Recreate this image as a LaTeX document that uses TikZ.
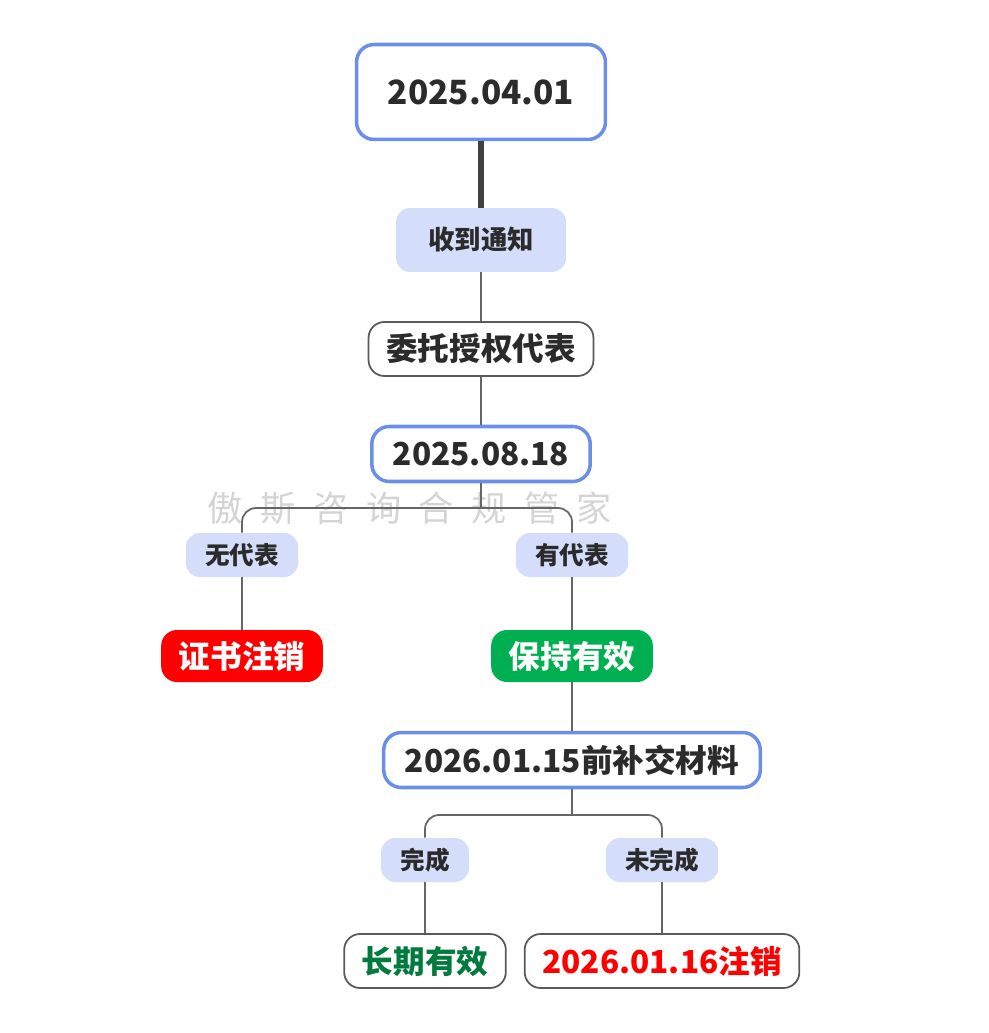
\documentclass[tikz,border=0pt]{standalone}
\usepackage{fontspec}
\setmainfont{Noto Sans CJK SC}
\usetikzlibrary{positioning}
\definecolor{edgeblue}{HTML}{6B8FE8}
\definecolor{tagfill}{HTML}{D4DEFA}
\definecolor{textdark}{HTML}{2B2B2B}
\definecolor{okgreen}{HTML}{00B050}
\definecolor{darkgreen}{HTML}{007A3D}
\definecolor{badred}{HTML}{FF0000}
\newcommand{\wgap}{\hspace{0.5em}}
\begin{document}
\begin{tikzpicture}[x=0.02cm, y=-0.02cm, font=\bfseries, text=textdark]
    % Define styles
    \tikzset{
        datebox/.style={draw=edgeblue, line width=2pt, rounded corners=10pt, fill=white, inner xsep=12pt, minimum height=1.1cm, font=\fontsize{18}{20}\bfseries},
        tagbox/.style={fill=tagfill, rounded corners=8pt, minimum height=0.88cm, inner xsep=11pt, font=\fontsize{14}{16}\bfseries},
        plainbox/.style={draw=black!65, line width=1pt, rounded corners=9pt, fill=white, minimum height=1.08cm, inner xsep=10pt, font=\fontsize{18}{20}\bfseries},
        colorbox/.style={rounded corners=9pt, minimum height=1.04cm, inner xsep=10pt, text=white, font=\fontsize{18}{20}\bfseries},
        link/.style={draw=black!60, line width=1pt},
    }
    \useasboundingbox (0,0) rectangle (989,1033);

    % MAIN TRUNK
    \node (d1) [datebox, minimum width=4.98cm, minimum height=1.9cm, font=\fontsize{19}{21}\bfseries] at (481,92) {2025.04.01};
    \node (notice) [tagbox, minimum width=3.4cm, minimum height=1.28cm, font=\fontsize{15}{17}\bfseries] at (481,240) {收到通知};
    \node (entrust) [plainbox] at (481,349) {委托授权代表};
    \node (d2) [datebox] at (481,454) {2025.08.18};

    % FIRST SPLIT
    \coordinate (split1) at (481,508);
    \node (norep) [tagbox] at (242,555) {无代表};
    \node (hasrep) [tagbox] at (572,555) {有代表};
    \node (cancel) [colorbox, fill=badred] at (242,656) {证书注销};
    \node (valid) [colorbox, fill=okgreen] at (572,656) {保持有效};
    \node (d3) [datebox] at (572,760) {2026.01.15前补交材料};

    % SECOND SPLIT
    \coordinate (split2) at (572,815);
    \node (done) [tagbox] at (425,860) {完成};
    \node (undone) [tagbox] at (662,860) {未完成};
    \node (longterm) [plainbox, text=darkgreen] at (425,961) {长期有效};
    \node (d4) [plainbox, text=badred] at (662,961) {2026.01.16注销};

    % watermark
    \node (mark) [text=black!17, font=\fontsize{20}{22}\mdseries] at (410,508) {傲\wgap 斯\wgap 咨\wgap 询\wgap 合\wgap 规\wgap 管\wgap 家};

    % CONNECTIONS
    \draw[draw=black!75, line width=3pt] (d1) -- (notice);
    \draw[link] (notice) -- (entrust);
    \draw[link] (entrust) -- (d2);
    \draw[link] (d2) -- (split1);
    \draw[link, rounded corners=8pt] (split1) -| (norep);
    \draw[link, rounded corners=8pt] (split1) -| (hasrep);
    \draw[link] (norep) -- (cancel);
    \draw[link] (hasrep) -- (valid);
    \draw[link] (valid) -- (d3);
    \draw[link] (d3) -- (split2);
    \draw[link, rounded corners=8pt] (split2) -| (done);
    \draw[link, rounded corners=8pt] (split2) -| (undone);
    \draw[link] (done) -- (longterm);
    \draw[link] (undone) -- (d4);
\end{tikzpicture}
\end{document}
